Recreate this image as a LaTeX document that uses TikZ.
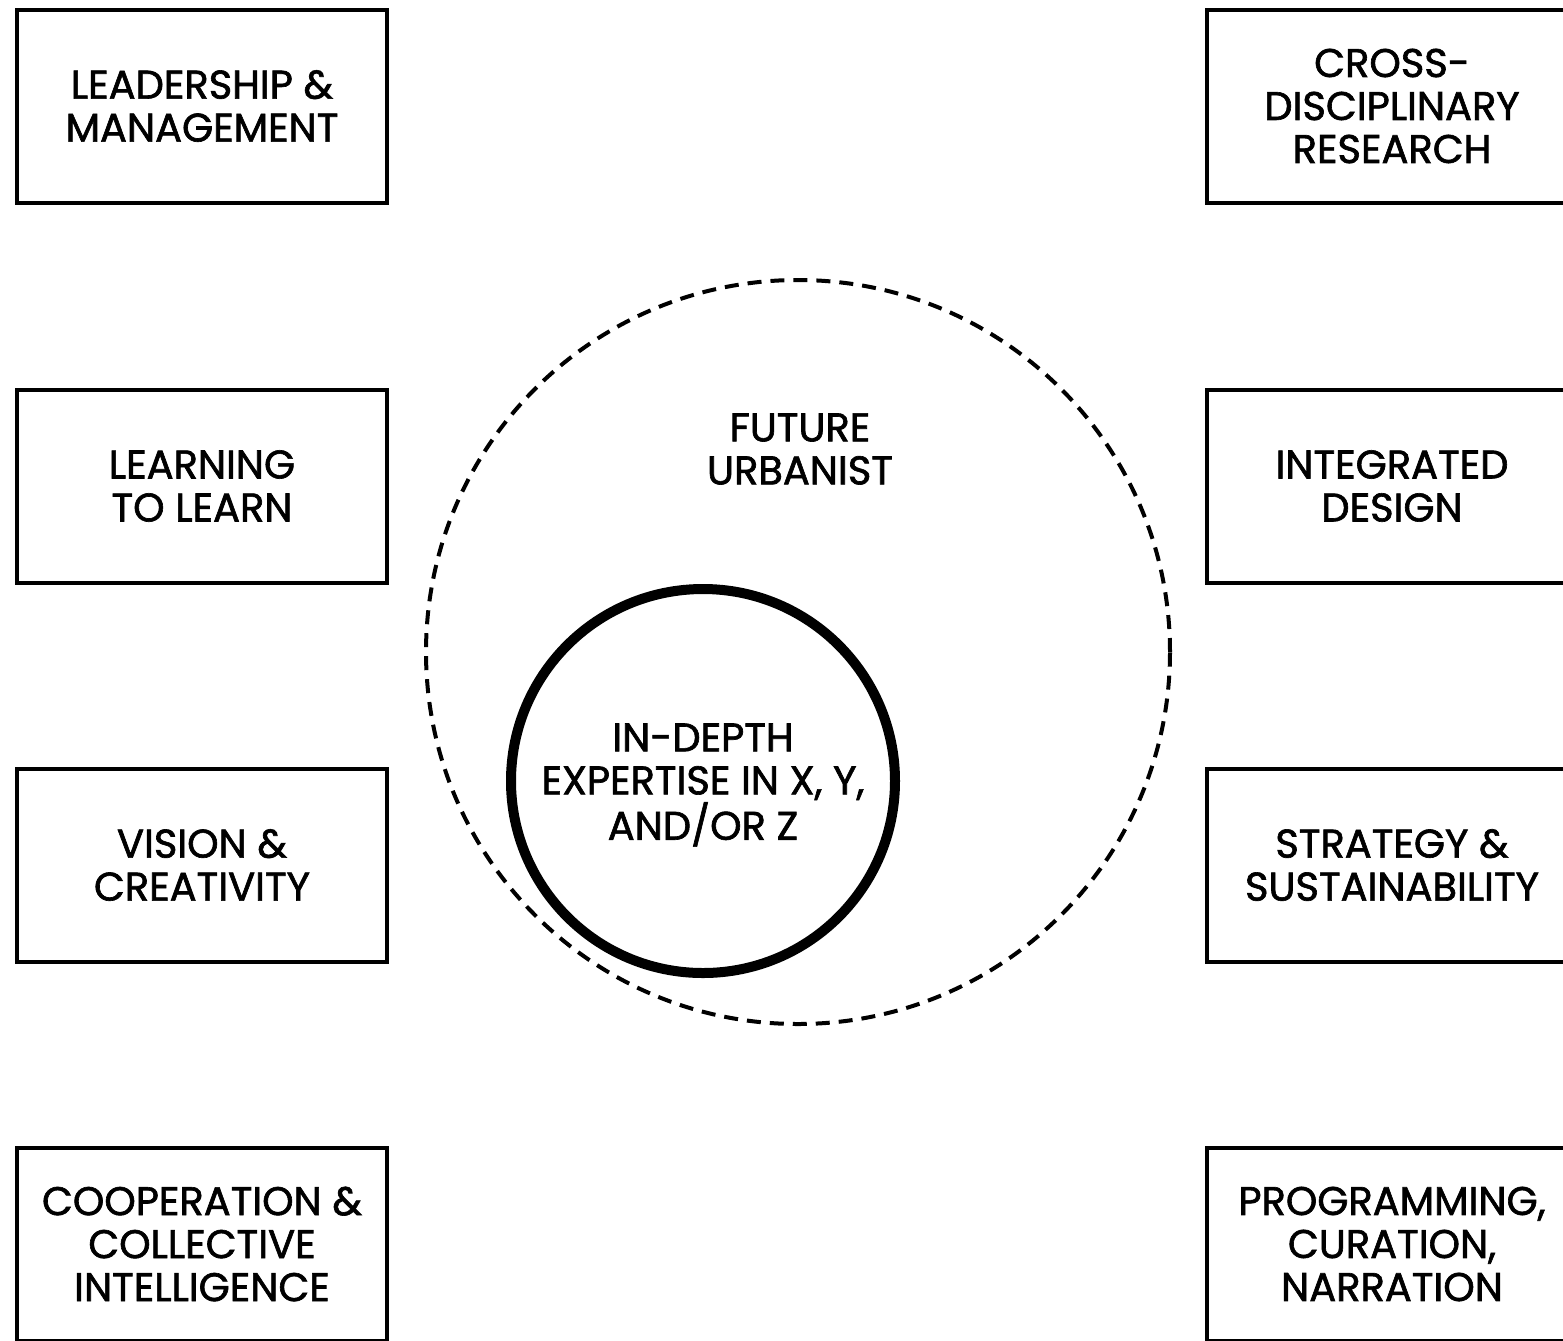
\documentclass[tikz,border=0pt]{standalone}
\usepackage{fontspec}
\setmainfont{Poppins}[FakeBold=1.6]
\usetikzlibrary{positioning}

\begin{document}
\begin{tikzpicture}[x=0.5pt, y=-0.5pt,% pixel-like units
skill/.style = {draw, line width=2pt, minimum width=185pt, minimum height=96.5pt,
                inner sep=0pt, align=center,
                font=\fontsize{20}{21.5}\selectfont},
label/.style = {align=center, font=\fontsize{20}{21.5}\selectfont},
outer ring/.style = {circle, draw, line width=2pt, dash pattern=on 7pt off 4.5pt,
                     minimum size=372pt, inner sep=0pt},
inner ring/.style = {circle, draw, line width=5pt,
                     minimum size=384*0.5pt, inner sep=0pt}
                    ]
	\useasboundingbox (0,0) rectangle (1563,1340);

	% rings
	\node[outer ring] (urbanist) at (798,652) {};
	\node[inner ring] (expertise) at (703,781) {};
	\node[label] (urbanistlbl) at (800,449) {FUTURE\\URBANIST};
	\node[label] (expertiselbl) at (703,785) {IN-DEPTH\\EXPERTISE IN X, Y,\\AND/OR Z};

	% left column
	\node[skill] (lead)  at (202,106)  {LEADERSHIP \&\\MANAGEMENT};
	\node[skill] (learn) at (202,486)  {LEARNING\\TO LEARN};
	\node[skill] (vision) at (202,865) {VISION \&\\CREATIVITY};
	\node[skill] (coop)  at (202,1244) {COOPERATION \&\\COLLECTIVE\\INTELLIGENCE};

	% right column
	\node[skill] (cross) at (1392,106)  {CROSS-\\DISCIPLINARY\\RESEARCH};
	\node[skill] (design) at (1392,486) {INTEGRATED\\DESIGN};
	\node[skill] (strat) at (1392,865)  {STRATEGY \&\\SUSTAINABILITY};
	\node[skill] (prog)  at (1392,1244) {PROGRAMMING,\\CURATION,\\NARRATION};
\end{tikzpicture}
\end{document}
